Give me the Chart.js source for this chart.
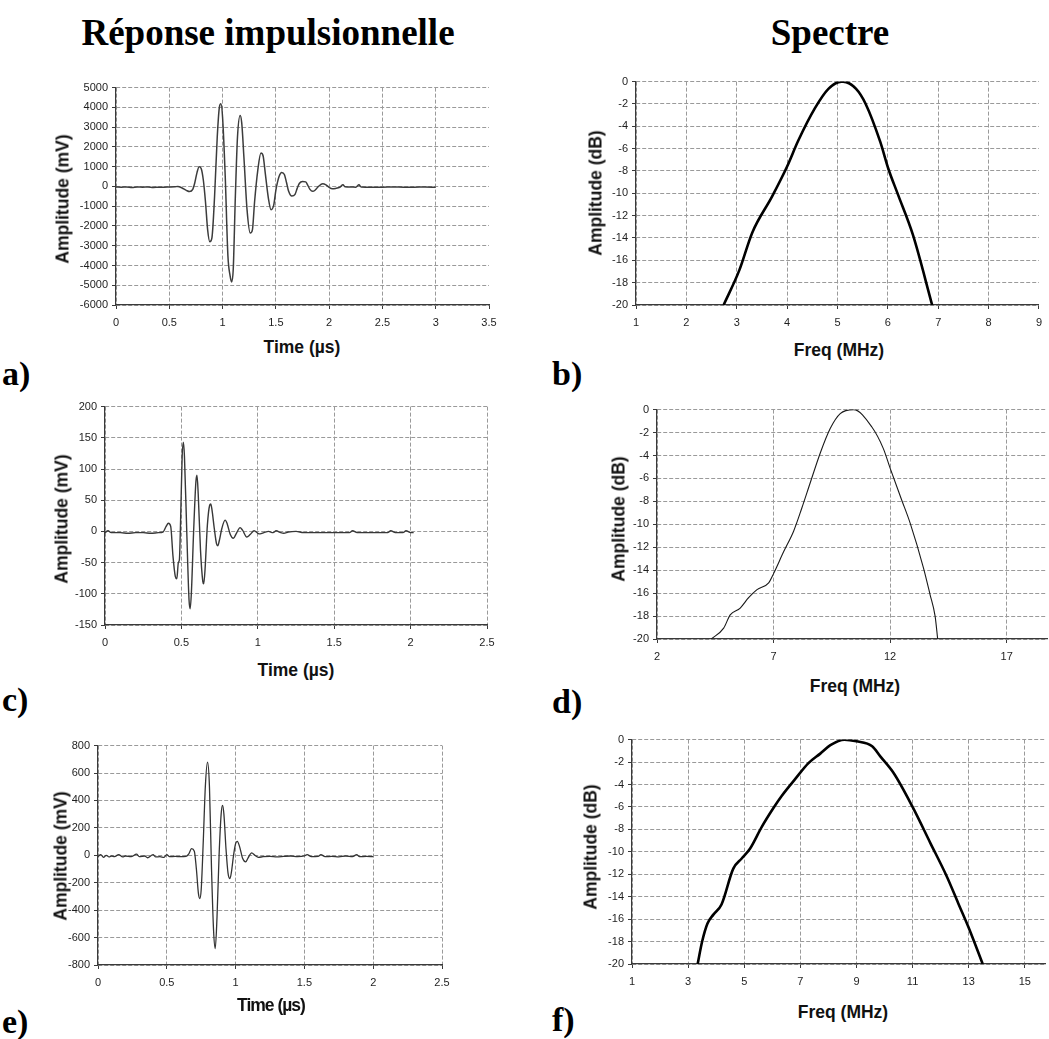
<!DOCTYPE html>
<html>
<head>
<meta charset="utf-8">
<script src="https://cdn.jsdelivr.net/npm/chart.js@4.4.1/dist/chart.umd.min.js"></script>
<style>
  html, body { margin: 0; padding: 0; background: #fff; }
  body { position: relative; width: 1049px; height: 1039px; overflow: hidden; }
  .txt { position: absolute; white-space: nowrap; line-height: 1; color: #000; }
  .head { font: bold 37px "Liberation Serif", "Times New Roman", serif; transform: translateX(-50%); }
  .panel { font: bold 34px "Liberation Serif", "Times New Roman", serif; }
  .atitle { font: bold 17.5px "Liberation Sans", Arial, sans-serif; color: #111; }
</style>
</head>
<body>
<script>
// ---- Impulse responses (time in µs, amplitude in mV) ----
const timeA = [0,0.05,0.1,0.15,0.2,0.25,0.3,0.35,0.4,0.45,0.5,0.55,0.58,0.62,0.66,0.69,0.72,0.74,0.76,0.78,0.8,0.82,0.84,0.86,0.88,0.9,0.925,0.95,0.97,0.985,1.0,1.025,1.05,1.07,1.085,1.1,1.12,1.14,1.165,1.18,1.2,1.23,1.26,1.28,1.3,1.33,1.36,1.38,1.4,1.43,1.455,1.48,1.5,1.53,1.555,1.58,1.6,1.62,1.65,1.68,1.7,1.72,1.75,1.78,1.8,1.82,1.845,1.87,1.9,1.94,1.97,2.0,2.03,2.06,2.1,2.13,2.15,2.2,2.25,2.28,2.3,2.4,2.5,2.6,2.7,2.8,2.9,3.0];
const ampA  = [-30,-40,-30,-50,-30,-40,-30,-50,-40,-40,-30,-20,0,-80,-200,-260,-150,200,700,1000,900,300,-800,-2200,-2800,-2600,-500,2500,4000,4180,3500,500,-3500,-4500,-4830,-4200,-500,2500,3590,3200,1500,-1200,-2360,-2200,-800,800,1685,1550,700,-600,-1180,-950,-200,500,707,600,200,-250,-490,-400,-100,150,250,230,50,-150,-250,-180,0,135,80,-50,-120,-100,-40,80,-20,-30,-40,80,-30,-40,-40,-30,-40,-40,-30,-40];

const timeC = [0,0.02,0.04,0.1,0.15,0.2,0.25,0.3,0.35,0.38,0.4,0.415,0.43,0.445,0.46,0.47,0.48,0.487,0.495,0.505,0.513,0.52,0.535,0.55,0.557,0.565,0.58,0.595,0.602,0.61,0.625,0.64,0.646,0.655,0.67,0.685,0.692,0.7,0.715,0.73,0.738,0.748,0.765,0.786,0.8,0.82,0.84,0.86,0.884,0.9,0.928,0.95,0.976,1.0,1.015,1.04,1.07,1.1,1.12,1.15,1.17,1.2,1.25,1.3,1.4,1.5,1.6,1.62,1.65,1.75,1.85,1.87,1.9,1.95,1.97,2.0,2.02];
const ampC  = [-2,1,-2,-2,-3,-2,-2,-3,-2,-1,8,13,8,-40,-72,-76,-50,-45,20,120,143,120,0,-110,-124,-100,0,80,90,60,-30,-80,-84,-60,10,42,44,35,5,-20,-23,-15,5,18,12,-5,-11,-3,6,2,-9,-5,1,-3,-4,-2,0,-2,1,-2,-3,-1,0,-2,-2,-2,-2,1,-2,-2,-2,1,-2,-2,1,-2,-2];

const timeE = [0,0.02,0.04,0.06,0.08,0.1,0.12,0.15,0.18,0.2,0.24,0.28,0.3,0.34,0.36,0.4,0.42,0.45,0.48,0.5,0.52,0.56,0.6,0.64,0.66,0.68,0.7,0.715,0.73,0.74,0.75,0.765,0.78,0.796,0.81,0.825,0.84,0.852,0.865,0.88,0.895,0.905,0.915,0.93,0.945,0.959,0.97,0.985,1.0,1.012,1.03,1.05,1.073,1.09,1.117,1.14,1.165,1.2,1.25,1.3,1.35,1.4,1.45,1.5,1.52,1.55,1.6,1.62,1.65,1.7,1.75,1.8,1.85,1.88,1.9,1.95,2.0];
const ampE  = [-10,5,-15,0,-12,-5,-10,5,-12,-5,-10,8,-10,-5,-18,5,-12,-10,-15,5,-10,-8,-10,-8,10,48,30,-100,-280,-315,-250,100,500,680,500,-100,-550,-680,-450,0,300,364,300,50,-130,-170,-120,0,85,102,60,-20,-48,-20,17,0,-15,-10,-8,-12,-8,-5,-10,-5,5,-10,-8,5,-10,-8,-12,-5,-10,5,-10,-8,-10];

// ---- Spectra (frequency in MHz, amplitude in dB) ----
const freqB = [2.74,3.05,3.31,3.70,4.00,4.22,4.55,4.82,5.08,5.11,5.37,5.56,5.85,6.01,6.20,6.50,6.88];
const dbB   = [-20,-16.9,-13.5,-10.3,-7.6,-5.3,-2.4,-0.65,0,0,-0.65,-2.0,-5.4,-7.8,-10.1,-13.75,-20];

const freqD = [4.33,4.86,5.14,5.57,5.93,6.29,6.79,7.0,7.43,7.86,8.21,8.57,9.0,9.43,9.86,10.43,11.21,11.71,12.0,12.5,12.86,13.43,13.71,13.93,14.04];
const dbD   = [-20,-19.05,-17.9,-17.3,-16.4,-15.7,-15.1,-14.3,-12.4,-10.6,-8.6,-6.4,-3.8,-1.65,-0.35,0,-1.5,-3.4,-5.1,-7.9,-9.9,-13.8,-16.1,-18.0,-20];

const freqF = [3.34,3.5,3.69,3.9,4.19,4.61,4.91,5.21,5.62,6.04,6.34,6.82,7.29,7.71,8.07,8.57,9.0,9.56,9.85,10.33,11.0,11.63,12.22,12.63,12.99,13.5];
const dbF   = [-20,-18,-16.4,-15.6,-14.7,-11.5,-10.6,-9.7,-7.8,-6.1,-5.0,-3.5,-2.1,-1.25,-0.5,0,-0.15,-0.6,-1.5,-3.0,-6.0,-9.2,-12.2,-14.6,-16.7,-20];

// ---- Tick labels ----
const ticksTimeA = [0,0.5,1,1.5,2,2.5,3,3.5];
const ticksAmpA  = [-6000,-5000,-4000,-3000,-2000,-1000,0,1000,2000,3000,4000,5000];
const ticksTimeC = [0,0.5,1,1.5,2,2.5];
const ticksAmpC  = [-150,-100,-50,0,50,100,150,200];
const ticksTimeE = [0,0.5,1,1.5,2,2.5];
const ticksAmpE  = [-800,-600,-400,-200,0,200,400,600,800];
const ticksFreqB = [1,2,3,4,5,6,7,8,9];
const ticksFreqD = [2,7,12,17];
const ticksFreqF = [1,3,5,7,9,11,13,15];
const ticksDb    = [-20,-18,-16,-14,-12,-10,-8,-6,-4,-2,0];

// ---- Page texts ----
const headings = [
  { text: 'Réponse impulsionnelle', x: 268, y: 11 },
  { text: 'Spectre', x: 830, y: 11 }
];
const panelLetters = [
  { text: 'a)', x: 2,   y: 355 }, { text: 'b)', x: 552, y: 355 },
  { text: 'c)', x: 2,   y: 681 }, { text: 'd)', x: 552, y: 683 },
  { text: 'e)', x: 2,   y: 1003 }, { text: 'f)', x: 552, y: 1001 }
];

const GRID = '#9a9a9a';
const AXIS = '#3a3a3a';
const Y_W = 62, X_H = 30, PAD_TOP = 10;

const panels = [
  { x: timeA, y: ampA, xr: [0, 3.5], yr: [-6000, 5000], xt: ticksTimeA, yt: ticksAmpA,
    box: [116, 87, 489, 305], color: '#3c3c3c', width: 1.5, edgeGrid: false,
    ytitle: { text: 'Amplitude (mV)', x: 63, y: 199 }, xtitle: { text: 'Time (µs)', x: 302, y: 347 } },
  { x: freqB, y: dbB, xr: [1, 9], yr: [-20, 0], xt: ticksFreqB, yt: ticksDb,
    box: [636, 81, 1044, 305], color: '#000', width: 2.6, edgeGrid: false,
    ytitle: { text: 'Amplitude (dB)', x: 596, y: 193 }, xtitle: { text: 'Freq (MHz)', x: 839, y: 350 } },
  { x: timeC, y: ampC, xr: [0, 2.5], yr: [-150, 200], xt: ticksTimeC, yt: ticksAmpC,
    box: [105, 406, 487, 625], color: '#383838', width: 1.4, edgeGrid: true,
    ytitle: { text: 'Amplitude (mV)', x: 62, y: 519 }, xtitle: { text: 'Time (µs)', x: 296, y: 670 } },
  { x: freqD, y: dbD, xr: [2, 18.73], yr: [-20, 0], xt: ticksFreqD, yt: ticksDb,
    box: [657, 409, 1047, 639], color: '#1a1a1a', width: 1.1, edgeGrid: false,
    ytitle: { text: 'Amplitude (dB)', x: 619, y: 519 }, xtitle: { text: 'Freq (MHz)', x: 855, y: 686 } },
  { x: timeE, y: ampE, xr: [0, 2.5], yr: [-800, 800], xt: ticksTimeE, yt: ticksAmpE,
    box: [98, 745, 442, 965], color: '#333', width: 1.3, edgeGrid: true,
    ytitle: { text: 'Amplitude (mV)', x: 61, y: 856 }, xtitle: { text: 'Time (µs)', x: 271, y: 1005, condensed: true } },
  { x: freqF, y: dbF, xr: [1, 15.72], yr: [-20, 0], xt: ticksFreqF, yt: ticksDb,
    box: [632, 739, 1045, 964], color: '#000', width: 2.6, edgeGrid: false,
    ytitle: { text: 'Amplitude (dB)', x: 591, y: 847 }, xtitle: { text: 'Freq (MHz)', x: 843, y: 1012 } }
];

function addText(cls, text, css) {
  const d = document.createElement('div');
  d.className = 'txt ' + cls;
  d.textContent = text;
  Object.assign(d.style, css);
  document.body.appendChild(d);
  return d;
}

headings.forEach(h => addText('head', h.text, { left: h.x + 'px', top: h.y + 'px' }));
panelLetters.forEach(p => addText('panel', p.text, { left: p.x + 'px', top: p.y + 'px' }));

function axisOptions(p, dir) {
  const isX = dir === 'x';
  const range = isX ? p.xr : p.yr;
  const ticks = isX ? p.xt : p.yt;
  return {
    type: 'linear',
    min: range[0],
    max: range[1],
    afterBuildTicks(scale) { scale.ticks = ticks.map(v => ({ value: v })); },
    afterFit(scale) { if (isX) scale.height = X_H; else scale.width = Y_W; },
    grid: {
      color: ctx => (isX && !p.edgeGrid && ctx.tick && ctx.tick.value === range[1]) ? 'rgba(0,0,0,0)' : GRID,
      lineWidth: 1,
      drawTicks: true,
      tickLength: 4,
      tickColor: AXIS,
      tickWidth: 1
    },
    border: { display: true, color: AXIS, width: 1.2, dash: [4, 2] },
    ticks: {
      color: '#1e1e1e',
      font: { family: '"Liberation Sans", Arial, sans-serif', size: 11 },
      padding: isX ? 7 : 4,
      autoSkip: false,
      maxRotation: 0,
      minRotation: 0,
      callback: v => String(v)
    }
  };
}

panels.forEach(p => {
  const [l, t, r, b] = p.box;
  const padRight = Math.min(20, 1049 - r);
  const cx = l - Y_W, cy = t - PAD_TOP;
  const cv = document.createElement('canvas');
  cv.width = r + padRight - cx;
  cv.height = b + X_H - cy;
  cv.style.cssText = `position:absolute;left:${cx}px;top:${cy}px;width:${cv.width}px;height:${cv.height}px;`;
  document.body.appendChild(cv);

  const pts = p.x.map((v, i) => ({ x: v, y: p.y[i] }));
  new Chart(cv, {
    type: 'scatter',
    data: { datasets: [{
      data: pts,
      showLine: true,
      borderColor: p.color,
      borderWidth: p.width,
      pointRadius: 0,
      cubicInterpolationMode: 'monotone',
      fill: false
    }] },
    options: {
      responsive: false,
      animation: false,
      events: [],
      layout: { autoPadding: false, padding: { top: PAD_TOP, right: padRight, left: 0, bottom: 0 } },
      plugins: { legend: { display: false }, tooltip: { enabled: false } },
      scales: { x: axisOptions(p, 'x'), y: axisOptions(p, 'y') }
    }
  });

  addText('atitle', p.ytitle.text, {
    left: p.ytitle.x + 'px', top: p.ytitle.y + 'px',
    transform: 'translate(-50%,-50%) rotate(-90deg)'
  });
  const xt = addText('atitle', p.xtitle.text, {
    left: p.xtitle.x + 'px', top: p.xtitle.y + 'px',
    transform: 'translate(-50%,-50%)'
  });
  if (p.xtitle.condensed) xt.style.letterSpacing = '-1px';
});
</script>
</body>
</html>
